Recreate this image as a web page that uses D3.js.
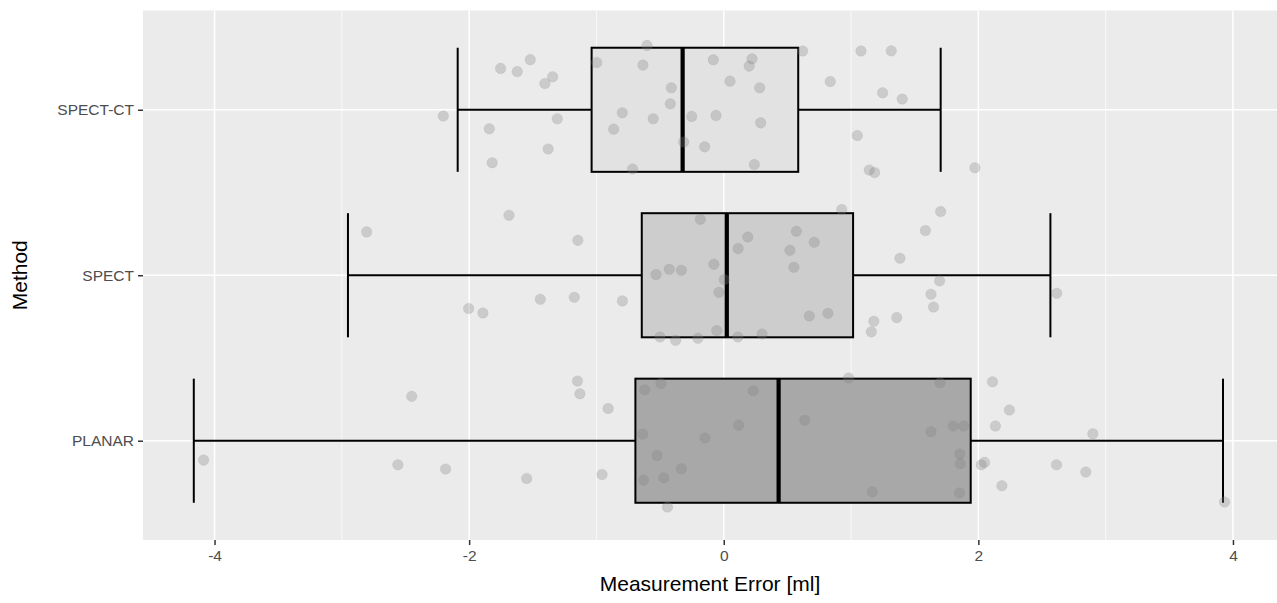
<!DOCTYPE html>
<html>
<head>
<meta charset="utf-8">
<script src="https://cdn.jsdelivr.net/npm/d3@7"></script>
<style>
  body { margin: 0; background: #fff; }
  svg { display: block; font-family: "Liberation Sans", Arial, sans-serif; }
</style>
</head>
<body>
<svg id="chart" width="1277" height="603"></svg>
<script>
// categories, bottom to top
const methods = ["PLANAR", "SPECT", "SPECT-CT"];

// box stats per method: [lower whisker, Q1, median, Q3, upper whisker]
const statsPlanar = [-4.163, -0.694, 0.431, 1.940, 3.922];
const statsSpect = [-2.952, -0.644, 0.024, 1.016, 2.566];
const statsSpectCt = [-2.090, -1.038, -0.323, 0.585, 1.704];

// jittered points: [error, vertical jitter in category units]
const ptsSpectCt = [
  [-1.753, -0.250], [-1.622, -0.231], [-1.520, -0.303], [-1.344, -0.200], [-1.405, -0.159],
  [-2.203, 0.038], [-1.842, 0.115], [-1.379, 0.237], [-1.819, 0.320], [-1.308, 0.054],
  [-0.603, -0.389], [-0.998, -0.286], [-0.635, -0.270], [-0.082, -0.302], [0.222, -0.308],
  [0.200, -0.264], [0.049, -0.173], [-0.412, -0.133], [-0.420, -0.036], [0.282, -0.133],
  [0.620, -0.355], [1.078, -0.355], [1.316, -0.356], [0.837, -0.171], [1.248, -0.103],
  [1.402, -0.065], [-0.797, 0.018], [-0.554, 0.054], [-0.252, 0.040], [-0.061, 0.034],
  [-0.865, 0.117], [0.290, 0.079], [-0.315, 0.195], [-0.150, 0.224], [-0.716, 0.358],
  [0.240, 0.331], [1.049, 0.155], [1.143, 0.364], [1.185, 0.379], [1.973, 0.350]
];
const ptsSpect = [
  [-2.805, -0.262], [-1.687, -0.363], [-2.004, 0.201], [-1.892, 0.228], [-1.441, 0.145],
  [-1.146, -0.211], [-1.174, 0.133], [-0.796, 0.155], [-0.184, -0.338], [0.189, -0.231],
  [0.113, -0.161], [0.570, -0.266], [0.711, -0.199], [0.520, -0.151], [0.551, -0.048],
  [-0.078, -0.066], [-0.428, -0.036], [-0.333, -0.030], [-0.532, -0.004], [0.004, 0.026],
  [-0.038, 0.103], [0.927, -0.397], [1.704, -0.385], [1.584, -0.270], [1.384, -0.103],
  [1.695, 0.034], [1.628, 0.115], [1.648, 0.192], [1.359, 0.256], [1.179, 0.278],
  [1.159, 0.342], [0.672, 0.246], [0.818, 0.230], [0.301, 0.355], [0.111, 0.373],
  [-0.055, 0.334], [-0.203, 0.381], [-0.378, 0.393], [-0.501, 0.373], [2.616, 0.109]
];
const ptsPlanar = [
  [-4.086, 0.117], [-2.451, -0.268], [-2.560, 0.145], [-2.185, 0.171], [-1.548, 0.228],
  [-1.149, -0.361], [-1.130, -0.284], [-0.908, -0.195], [-0.956, 0.204], [-0.622, -0.308],
  [-0.493, -0.346], [-0.636, -0.040], [-0.524, 0.089], [-0.333, 0.169], [-0.471, 0.224],
  [-0.630, 0.238], [-0.442, 0.401], [0.981, -0.379], [0.232, -0.302], [0.117, -0.094],
  [-0.148, -0.016], [0.637, -0.123], [1.699, -0.350], [2.111, -0.356], [2.244, -0.186],
  [1.628, -0.054], [1.802, -0.089], [1.885, -0.089], [2.134, -0.089], [2.899, -0.042],
  [1.855, 0.080], [1.858, 0.139], [2.023, 0.145], [2.049, 0.131], [2.614, 0.145],
  [2.844, 0.189], [2.185, 0.272], [1.167, 0.308], [1.852, 0.316], [3.934, 0.370]
];

const xTicks = [-4, -2, 0, 2, 4];
const xMinor = [-3, -1, 1, 3];

const boxes = [
  { method: "PLANAR", stats: statsPlanar, fill: "#a8a8a8" },
  { method: "SPECT", stats: statsSpect, fill: "#cdcdcd" },
  { method: "SPECT-CT", stats: statsSpectCt, fill: "#e2e2e2" }
];
const points = [
  { method: "PLANAR", pts: ptsPlanar },
  { method: "SPECT", pts: ptsSpect },
  { method: "SPECT-CT", pts: ptsSpectCt }
];

const margin = { top: 10.5, right: 0, bottom: 63, left: 143 };
const width = 1277 - margin.left - margin.right;
const height = 603 - margin.top - margin.bottom;

const svg = d3.select("#chart");
const g = svg.append("g").attr("transform", `translate(${margin.left},${margin.top})`);

const x = d3.scaleLinear().domain([-4.562, 4.346]).range([0, width]);
const y = d3.scalePoint().domain(methods.slice().reverse()).range([0, height]).padding(0.6);
const step = y.step();
const boxH = step * 0.75;

// panel
g.append("rect").attr("width", width).attr("height", height).attr("fill", "#ebebeb");

// grid
g.selectAll(".minor").data(xMinor).enter().append("line")
  .attr("x1", d => x(d)).attr("x2", d => x(d))
  .attr("y1", 0).attr("y2", height)
  .attr("stroke", "#fff").attr("stroke-width", 0.7);
g.selectAll(".major").data(xTicks).enter().append("line")
  .attr("x1", d => x(d)).attr("x2", d => x(d))
  .attr("y1", 0).attr("y2", height)
  .attr("stroke", "#fff").attr("stroke-width", 1.5);
g.selectAll(".hmajor").data(methods).enter().append("line")
  .attr("x1", 0).attr("x2", width)
  .attr("y1", d => y(d)).attr("y2", d => y(d))
  .attr("stroke", "#fff").attr("stroke-width", 1.5);

// whiskers with end caps
const bx = g.selectAll(".box").data(boxes).enter().append("g");
bx.append("line")
  .attr("x1", d => x(d.stats[0])).attr("x2", d => x(d.stats[4]))
  .attr("y1", d => y(d.method)).attr("y2", d => y(d.method))
  .attr("stroke", "#000").attr("stroke-width", 2);
bx.append("line")
  .attr("x1", d => x(d.stats[0])).attr("x2", d => x(d.stats[0]))
  .attr("y1", d => y(d.method) - boxH / 2).attr("y2", d => y(d.method) + boxH / 2)
  .attr("stroke", "#000").attr("stroke-width", 2);
bx.append("line")
  .attr("x1", d => x(d.stats[4])).attr("x2", d => x(d.stats[4]))
  .attr("y1", d => y(d.method) - boxH / 2).attr("y2", d => y(d.method) + boxH / 2)
  .attr("stroke", "#000").attr("stroke-width", 2);
bx.append("rect")
  .attr("x", d => x(d.stats[1]))
  .attr("width", d => x(d.stats[3]) - x(d.stats[1]))
  .attr("y", d => y(d.method) - boxH / 2)
  .attr("height", boxH)
  .attr("fill", d => d.fill)
  .attr("stroke", "#000").attr("stroke-width", 2);
bx.append("line")
  .attr("x1", d => x(d.stats[2])).attr("x2", d => x(d.stats[2]))
  .attr("y1", d => y(d.method) - boxH / 2).attr("y2", d => y(d.method) + boxH / 2)
  .attr("stroke", "#000").attr("stroke-width", 4.2);

// jittered points
points.forEach(p => {
  g.selectAll(null).data(p.pts).enter().append("circle")
    .attr("cx", d => x(d[0]))
    .attr("cy", d => y(p.method) + d[1] * step)
    .attr("r", 5.3)
    .attr("fill", "#808080").attr("fill-opacity", 0.3)
    .attr("stroke", "#808080").attr("stroke-opacity", 0.12).attr("stroke-width", 1);
});

// axes
const xAxis = g.append("g").attr("transform", `translate(0,${height})`)
  .call(d3.axisBottom(x).tickValues(xTicks).tickSize(5).tickPadding(5).tickFormat(d => d < 0 ? "-" + Math.abs(d) : d));
const yAxis = g.append("g")
  .call(d3.axisLeft(y).tickSize(5).tickPadding(4));
[xAxis, yAxis].forEach(a => {
  a.select(".domain").remove();
  a.selectAll(".tick line").attr("stroke", "#333").attr("stroke-width", 1.5);
  a.selectAll(".tick text").attr("fill", "#4d4d4d")
    .style("font-size", "15.5px").style("font-family", "Liberation Sans, Arial, sans-serif");
});

svg.append("text")
  .attr("x", margin.left + width / 2).attr("y", 591)
  .attr("text-anchor", "middle")
  .style("font-size", "21px").attr("fill", "#000")
  .text("Measurement Error [ml]");
svg.append("text")
  .attr("transform", `translate(27,${margin.top + height / 2}) rotate(-90)`)
  .attr("text-anchor", "middle")
  .style("font-size", "21px").attr("fill", "#000")
  .text("Method");
</script>
</body>
</html>
